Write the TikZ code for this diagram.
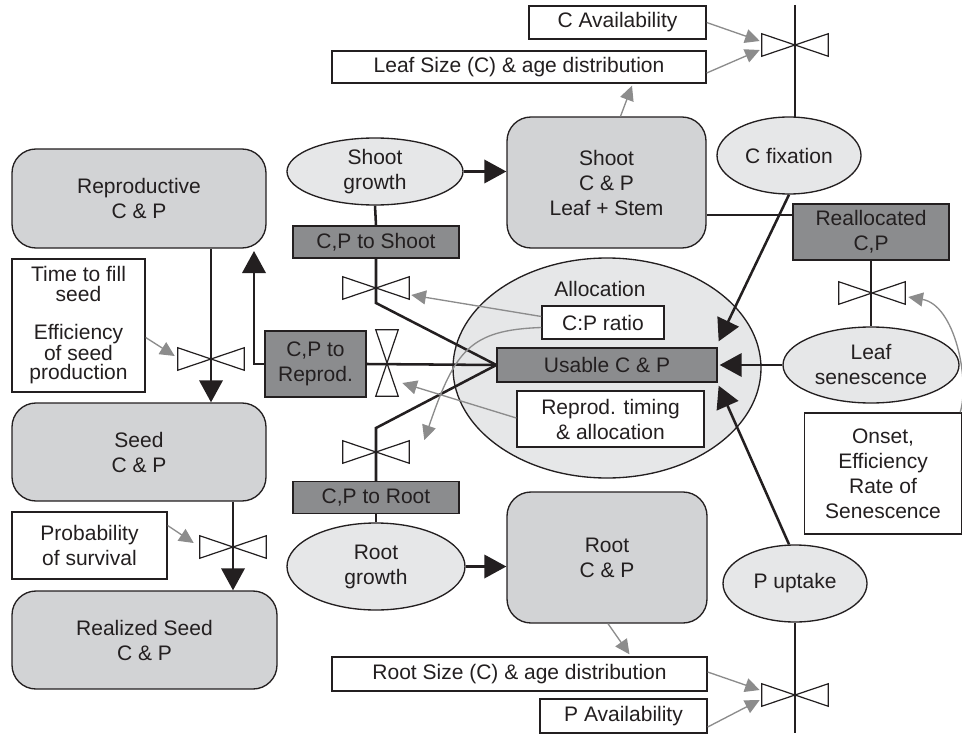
\documentclass[tikz,border=0pt]{standalone}
\usepackage{fontspec}
\setmainfont{Liberation Sans}
\usetikzlibrary{arrows.meta,shapes.geometric,calc}
\definecolor{boxgray}{HTML}{D2D3D5}
\definecolor{ellgray}{HTML}{E6E7E8}
\definecolor{darkbox}{HTML}{8B8C8E}
\definecolor{infl}{HTML}{8C8C8C}
\definecolor{inkc}{HTML}{231F20}
\begin{document}
\begin{tikzpicture}[x=0.75pt,y=-0.75pt,
  every node/.style={font=\fontsize{15.75}{18.75}\selectfont, text=inkc, align=center, inner sep=0pt},
  stock/.style={draw=inkc, line width=1pt, fill=boxgray, rounded corners=18pt},
  proc/.style={draw=inkc, line width=1pt, fill=ellgray, ellipse},
  flowbox/.style={draw=inkc, line width=1pt, fill=darkbox},
  parbox/.style={draw=inkc, line width=1pt, fill=white},
  valvebox/.style={minimum width=49.5pt, minimum height=16.5pt},
  vvalvebox/.style={minimum width=16.5pt, minimum height=49.5pt},
  bowtie/.style={draw=inkc, line width=0.9pt, fill=white},
  flow/.style={draw=inkc, line width=1.9pt},
  flowarrow/.style={flow, -{Triangle[length=16.5pt,width=17.5pt]}},
  inflarrow/.style={draw=infl, line width=1pt, -{Triangle[length=11pt,width=10.5pt]}}
]
\useasboundingbox (0,0) rectangle (962,734);

% ---- nodes ----
\node[stock, minimum width=190.5pt, minimum height=74.25pt] (repro) at (139,198.5) {Reproductive\\C \& P};
\node[stock, minimum width=190.5pt, minimum height=73.5pt] (seed) at (139,452) {Seed\\C \& P};
\node[stock, minimum width=198.75pt, minimum height=73.5pt] (rseed) at (144.5,640) {Realized Seed\\C \& P};
\node[parbox, minimum width=99.75pt, minimum height=99.75pt, font=\fontsize{15.75}{14.6}\selectfont] (timefill) at (78.5,325.5) {Time to fill\\seed\\[14pt]Efficiency\\of seed\\production};
\node[parbox, minimum width=116.25pt, minimum height=50.25pt] (prob) at (89.5,545.5) {Probability\\of survival};

\node[proc, minimum width=132pt, minimum height=50.25pt] (shootg) at (375,171.5) {Shoot\\growth};
\node[flowbox, minimum width=124.5pt, minimum height=24pt] (cpshoot) at (376,242) {C,P to Shoot};
\node[stock, minimum width=149.25pt, minimum height=98.25pt] (shoot) at (606.5,182.5) {Shoot\\C \& P\\Leaf + Stem};
\node[parbox, minimum width=132.75pt, minimum height=24.75pt] (cavail) at (617.5,22.5) {C Availability};
\node[parbox, minimum width=280.5pt, minimum height=24pt] (leafsize) at (519,67) {Leaf Size (C) \& age distribution};
\node[proc, minimum width=108pt, minimum height=57.75pt] (cfix) at (789,155.5) {C fixation};
\node[flowbox, minimum width=117pt, minimum height=42pt] (realloc) at (871,232) {Reallocated\\C,P};
\node[proc, minimum width=132pt, minimum height=57pt] (leafsen) at (871,365) {Leaf\\senescence};
\node[parbox, minimum width=117.75pt, minimum height=90.75pt] (onset) at (883,473.5) {Onset,\\Efficiency\\Rate of\\Senescence};
\node[proc, minimum width=108pt, minimum height=57.75pt] (puptake) at (795,583.5) {P uptake};

\node[proc, minimum width=231pt, minimum height=165pt] (alloc) at (607,368) {};
\node (allocl) at (600,289) {Allocation};
\node[parbox, minimum width=91.5pt, minimum height=24.75pt] (cpratio) at (603,322.5) {C:P ratio};
\node[flowbox, minimum width=165pt, minimum height=25.5pt] (usable) at (607,365) {Usable C \& P};
\node[parbox, minimum width=140.25pt, minimum height=42pt] (reprodt) at (610.5,419) {Reprod. timing\\\& allocation};
\node[flowbox, minimum width=75.75pt, minimum height=49.5pt] (cprepro) at (315.5,364) {C,P to\\Reprod.};

\node[flowbox, minimum width=124.5pt, minimum height=24pt] (cproot) at (376,497.5) {C,P to Root};
\node[proc, minimum width=133.5pt, minimum height=65.25pt] (rootg) at (376,566.5) {Root\\growth};
\node[stock, minimum width=150pt, minimum height=98.25pt] (root) at (607,557.5) {Root\\C \& P};
\node[parbox, minimum width=281.25pt, minimum height=25.5pt] (rootsize) at (519.5,674) {Root Size (C) \& age distribution};
\node[parbox, minimum width=125.25pt, minimum height=25.5pt] (pavail) at (623.5,716) {P Availability};

% ---- valves (positions) ----
\node[valvebox] (vC) at (795,45) {};
\node[valvebox] (vRealloc) at (872,293) {};
\node[valvebox] (vP) at (795,695) {};
\node[valvebox] (vShoot) at (376,288) {};
\node[valvebox] (vRoot) at (376,452) {};
\node[vvalvebox] (vRepro) at (387,363) {};
\node[valvebox] (vSeed) at (211,359) {};
\node[valvebox] (vSurv) at (233,547) {};
\foreach \v in {vC,vRealloc,vP,vShoot,vRoot,vSeed,vSurv}{
  \draw[bowtie] (\v.north west) -- (\v.south east) -- (\v.north east) -- (\v.south west) -- cycle;
}
\draw[bowtie] (vRepro.north west) -- (vRepro.south east) -- (vRepro.south west) -- (vRepro.north east) -- cycle;

% ---- free ends ----
\coordinate (topend) at (795,5);
\coordinate (botend) at (795,733);
\coordinate (reprotip) at (254,251);
\coordinate (bendS) at (376,303);
\coordinate (bendR) at (376,428);

% ---- flows (black) ----
\draw[flow] (topend) -- ($(topend |- cfix.north)+(0,1)$);
\draw[flow] (puptake.south) -- (botend);
\draw[flowarrow] (cfix.south) -- ($(usable.north east)+(1,-6)$);
\draw[flowarrow] (leafsen.west) -- ($(usable.east)+(2,0)$);
\draw[flowarrow] ($(puptake.north)+(-6,0)$) -- ($(usable.south east)+(1,3)$);
\draw[flow] ([yshift=12.75pt]realloc.west) -- ([yshift=12.75pt]realloc.west -| shoot.east);
\draw[flow] (realloc.south) -- (leafsen.north);
\draw[flow] (shootg.south) -- (cpshoot.north);
\draw[flow] (cpshoot.south) -- (bendS) -- (usable.west);
\draw[flow] (usable.west) -- (cprepro.east);
\draw[flowarrow] (cprepro.west) -| (reprotip);
\draw[flow] (usable.west) -- (bendR) -- (cproot.north);
\draw[flow] (cproot.south) -- (rootg.north);
\draw[flowarrow] (shootg.east) -- (shoot.west |- shootg.east);
\draw[flowarrow] (rootg.east) -- (root.west |- rootg.east);
\draw[flowarrow] ([xshift=54pt]repro.south) -- ([xshift=54pt]seed.north);
\draw[flowarrow] ([xshift=70.5pt]seed.south) -- ([xshift=70.5pt]seed.south |- rseed.north);

% ---- influences (gray) ----
\draw[inflarrow] (cavail.east) -- ($(vC.west)+(-2,-4)$);
\draw[inflarrow] ($(leafsize.east)+(0,6)$) -- ($(vC.west)+(-2,5)$);
\draw[inflarrow] ($(shoot.north)+(14,0)$) -- ($(leafsize.south)+(113,2)$);
\draw[inflarrow] ($(onset.north east)+(-2,0)$) .. controls (970,380) and (955,305) .. ($(vRealloc.east)+(3,4)$);
\draw[inflarrow] ($(timefill.east)+(0,12)$) -- ($(vSeed.west)+(-3,-3)$);
\draw[inflarrow] ($(prob.east)+(0,-20)$) -- ($(vSurv.west)+(-6,-4)$);
\draw[inflarrow] ($(root.south)+(1,0)$) -- ($(rootsize.north)+(110,-2)$);
\draw[inflarrow] ($(rootsize.east)+(0,-2)$) -- ($(vP.west)+(-2,-5)$);
\draw[inflarrow] ($(pavail.east)+(0,11)$) -- ($(vP.west)+(-2,5)$);
\draw[inflarrow] ($(cpratio.west)+(0,-6)$) -- ($(vShoot.east)+(2,7)$);
\draw[inflarrow] ($(cpratio.west)+(0,5)$) .. controls (470,330) and (455,350) .. ($(vRoot.east)+(15,-12)$);
\draw[inflarrow] ($(reprodt.west)+(0,-1)$) -- ($(vRepro.east)+(4,20)$);
\end{tikzpicture}
\end{document}
